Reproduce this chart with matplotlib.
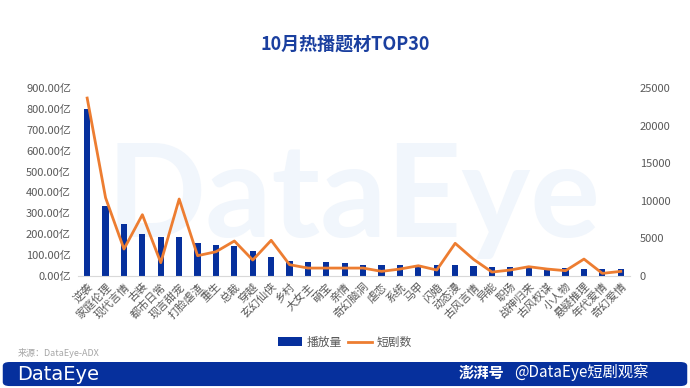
import matplotlib
matplotlib.use("Agg")
import matplotlib.pyplot as plt
from matplotlib.patches import FancyBboxPatch, Patch
from matplotlib.lines import Line2D
from matplotlib.ticker import FuncFormatter, MultipleLocator
import numpy as np

plt.rcParams["font.family"] = ["Noto Sans CJK SC", "DejaVu Sans"]

# 题材
categories = [
    "逆袭", "家庭伦理", "现代言情", "古装", "都市日常", "现言甜宠", "打脸虐渣",
    "重生", "总裁", "穿越", "玄幻仙侠", "乡村", "大女主", "萌宝", "亲情",
    "奇幻脑洞", "虐恋", "系统", "马甲", "闪婚", "动态漫", "古风言情", "异能",
    "职场", "战神归来", "古风权谋", "小人物", "悬疑推理", "年代爱情", "奇幻爱情",
]
# 播放量（亿）
plays = [
    803, 333, 248, 201, 187, 184, 155, 148, 145, 118, 92, 69, 64, 64, 61,
    52, 52, 52, 52, 52, 50, 47, 43, 42, 43, 39, 37, 32, 32, 31,
]
# 短剧数
dramas = [
    23700, 10400, 3560, 8140, 1740, 10230, 2670, 3200, 4630, 2090, 4720, 1470,
    1020, 1020, 1020, 1020, 580, 890, 1330, 760, 4320, 2180, 490, 760, 1200,
    890, 670, 2220, 310, 580,
]

BLUE = "#06309d"
ORANGE = "#ed7d31"
GRAY = "#595959"

fig = plt.figure(figsize=(6.9, 3.88), dpi=100)
ax = fig.add_axes([0.113, 0.2894, 0.8, 0.483])
ax2 = ax.twinx()

x = np.arange(len(categories))
ax.bar(x, plays, width=0.34, color=BLUE, zorder=2)
ax2.plot(x, dramas, color=ORANGE, lw=2, zorder=3)

ax.set_xlim(-0.5, len(categories) - 0.5)
ax.set_ylim(0, 900)
ax2.set_ylim(0, 25000)
ax.yaxis.set_major_locator(MultipleLocator(100))
ax.yaxis.set_major_formatter(FuncFormatter(lambda v, p: f"{v:.2f}亿"))
ax2.yaxis.set_major_locator(MultipleLocator(5000))

ax.set_xticks(x)
ax.set_xticklabels(categories, rotation=45, ha="right", rotation_mode="anchor")

for a in (ax, ax2):
    for s in a.spines.values():
        s.set_visible(False)
    a.tick_params(length=0, labelsize=8, labelcolor=GRAY)
ax.spines["bottom"].set_visible(True)
ax.spines["bottom"].set_color("#d9d9d9")
ax.tick_params(axis="y", pad=5)
ax.tick_params(axis="x", pad=4, labelsize=8)
ax2.tick_params(axis="y", pad=7)

# watermark
ax.text(0.5, 0.206, "DataEye", transform=ax.transAxes, ha="center", va="baseline",
        fontsize=94, color="#f1f6fc", zorder=0.5, family="Lato", fontweight="bold")

fig.text(0.5, 0.885, "10月热播题材TOP30", ha="center", va="center",
         fontsize=13, color="#1a3f9f", fontweight="bold")

handles = [Patch(facecolor=BLUE), Line2D([], [], color=ORANGE, lw=2)]
fig.legend(handles, ["播放量", "短剧数"], loc="center", bbox_to_anchor=(0.5, 0.118),
           ncol=2, frameon=False, fontsize=8.5, handlelength=2, handleheight=0.7,
           columnspacing=0.5, handletextpad=0.4, labelcolor=GRAY)

fig.text(0.025, 0.09, "来源：DataEye-ADX", fontsize=6.5, color="#a6a6a6", va="center")

banner = FancyBboxPatch((0.004, 0.005), 0.992, 0.062, transform=fig.transFigure,
                        boxstyle="round,pad=0,rounding_size=0.01",
                        facecolor=BLUE, edgecolor="none")
fig.patches.append(banner)
fig.text(0.025, 0.036, "DataEye", color="white", fontsize=14, va="center",
         family="DejaVu Sans")
fig.text(0.665, 0.040, "澎湃号", color="white", fontsize=11, va="center",
         fontweight="bold", style="italic")
fig.text(0.745, 0.040, "@DataEye短剧观察", color="white", fontsize=11, va="center")

fig.savefig("out.png", dpi=100)
